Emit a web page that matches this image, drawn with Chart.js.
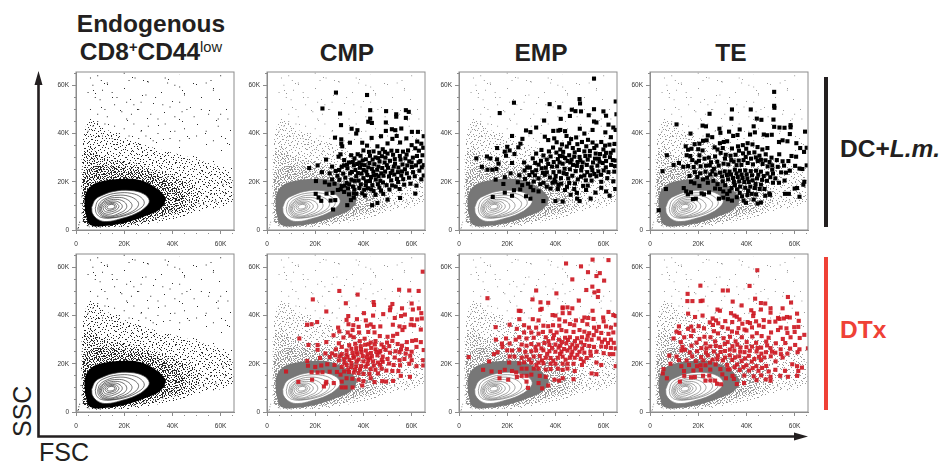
<!DOCTYPE html>
<html>
<head>
<meta charset="utf-8">
<title>FSC SSC</title>
<script src="https://cdn.jsdelivr.net/npm/chart.js@4"></script>
<style>
body { margin: 0; background: #fff; width: 940px; height: 463px; overflow: hidden; position: relative; font-family: "Liberation Sans", Arial, sans-serif; color: #231f20; }
canvas { position: absolute; }
.head { position: absolute; font-weight: bold; font-size: 24.5px; line-height: 28px; text-align: center; white-space: nowrap; }
.head sup { font-size: 60%; line-height: 0; vertical-align: 0.55em; }
.head sup.low { font-weight: normal; }
.bar { position: absolute; left: 824px; width: 3.5px; }
.axisName { position: absolute; font-size: 25px; line-height: 25px; }
svg { position: absolute; left: 0; top: 0; }
</style>
</head>
<body>
<div class="head" style="left:51px;top:10px;width:200px">Endogenous<br>CD8<sup>+</sup>CD44<sup class="low">low</sup></div>
<div class="head" style="left:297px;top:39px;width:100px">CMP</div>
<div class="head" style="left:491px;top:39px;width:100px">EMP</div>
<div class="head" style="left:681px;top:39px;width:100px">TE</div>
<div class="head" style="left:840px;top:135px">DC+<i>L.m.</i></div>
<div class="head" style="left:840px;top:316px;color:#ef4136">DTx</div>
<div class="bar" style="top:77px;height:150px;background:#231f20"></div>
<div class="bar" style="top:257px;height:153px;background:#ef4136"></div>
<svg width="940" height="463">
  <path d="M38.5 80V436.5H800" fill="none" stroke="#231f20" stroke-width="2.6"/>
  <path d="M38.5 71L42.5 85H34.5Z M808 436.5L794 432.5V440.5Z" fill="#231f20"/>
</svg>
<div class="axisName" style="left:9px;top:412px;transform:rotate(-90deg);transform-origin:13px 12px;width:50px">SSC</div>
<div class="axisName" style="left:39px;top:440px">FSC</div>

<script>
// all values in thousands (K)
var tickValues = [0, 20, 40, 60];

var contours = [
  [[6.5,9.4],[7.9,12.5],[10,14],[15.6,16],[22.5,16.4],[28,15],[30.4,12.2],[28.8,9.4],[24.6,6.7],[18.3,4.6],[12.8,3.5],[9.3,4.3],[6.9,6.7]],
  [[8,9],[9,12],[12,14],[17,15.3],[23,15.2],[27,13.5],[28.3,11],[26,8.5],[21,6.2],[15,5],[10.5,5.2],[8.5,6.8]],
  [[9,9],[10,11.5],[13,13.4],[17,14.4],[22,14],[25.5,12],[25.8,10],[23.5,7.8],[19,6],[14,5.1],[10.8,5.7],[9.3,7.2]],
  [[9.5,9],[10.5,11],[13,12.8],[17,13.5],[20.5,13],[23,11],[23,9.3],[21,7.5],[17,6],[13.5,5.4],[11,6.1],[9.9,7.4]],
  [[10,9],[11,11],[13.2,12.2],[16.5,12.7],[19.5,12],[21,10.3],[20.5,8.5],[18,7],[14.5,5.8],[11.8,6.3],[10.4,7.5]],
  [[10.5,9.2],[11.5,10.8],[13.5,11.7],[16.3,12],[18.3,11.2],[19.2,9.8],[18.3,8.4],[16,7.2],[13.5,6.5],[11.6,7],[10.8,8]],
  [[11.2,9.3],[12.2,10.7],[14,11.3],[16,11.4],[17.4,10.6],[17.8,9.6],[16.8,8.4],[14.8,7.6],[12.8,7.4],[11.6,8.1]],
  [[12,9.4],[12.8,10.5],[14.2,10.9],[15.8,10.9],[16.7,10.1],[16.6,9.2],[15.3,8.5],[13.8,8.1],[12.6,8.4]],
  [[12.8,9.5],[13.5,10.3],[14.7,10.6],[15.9,10.3],[16.1,9.5],[15.2,8.9],[13.9,8.7],[13,9]]
];
var denseBand = [[3.8,7.4],[3.8,14.3],[6.5,18.5],[12.8,20.6],[19.7,21.2],[26.7,20.6],[33.6,17.1],[37,13],[35,8.8],[29.4,6],[21,3.2],[12.8,1.8],[5.8,2.2]];
var innerCloud = [[3,3],[2.8,15],[3.5,23],[8,26.5],[16,26],[26,25],[35,22],[43,17],[45,12],[41,7.5],[30,4.5],[16,1.6],[6,1.4]];
var midCloud = [[2.8,3],[2.6,16],[3,30],[5,34],[12,30],[22,28],[32,25.5],[42,22],[50,17],[50,10],[41,6.5],[30,3.6],[15,1.4],[5,1.2]];
var outerCloud = [[2.6,3],[2.4,22],[3,38],[6,45],[14,41],[26,36],[40,32],[54,28],[64,24],[65,12],[52,8],[38,4],[20,1.2]];
var farCloud = [[3,20],[4,45],[8,65],[40,65],[65,52],[65,15],[40,15]];

// stipple tiles, each dot one pixel: width, height, dots
var tileFar = [89, 73, [[3,2],[5,3],[21,1],[44,6],[71,3],[86,9],[12,13],[33,11],[58,15],[61,16],[78,20],[7,27],[26,24],[47,22],[49,25],[84,31],[18,35],[37,33],[66,29],[2,41],[29,44],[55,39],[74,42],[12,50],[44,51],[47,53],[81,52],[23,57],[62,56],[6,62],[35,63],[70,65],[86,68],[15,70],[52,68],[28,71]]];
var tileB = [47, 41, [[2,1],[11,0],[14,2],[27,3],[38,1],[44,4],[6,5],[20,6],[33,7],[41,8],[0,9],[9,9],[16,11],[24,10],[29,12],[36,12],[45,13],[4,14],[12,15],[19,16],[39,17],[26,17],[31,18],[7,19],[43,20],[1,21],[15,21],[22,22],[35,22],[10,24],[28,24],[40,25],[5,26],[18,26],[33,27],[45,27],[13,29],[24,30],[37,30],[2,31],[8,32],[30,32],[42,33],[17,34],[21,35],[35,35],[5,36],[27,37],[44,37],[12,38],[38,39],[1,39],[23,40],[32,40]]];
var tileA = [23, 19, [[1,0],[7,1],[14,0],[19,2],[3,3],[10,3],[16,4],[22,4],[0,5],[8,5],[6,6],[12,6],[18,7],[4,8],[9,8],[15,9],[21,9],[1,10],[16,10],[7,11],[13,11],[19,11],[3,12],[10,13],[17,13],[22,14],[0,14],[5,15],[12,15],[15,16],[20,16],[2,17],[8,17],[14,18],[18,18],[5,18],[11,1],[21,0],[4,11]]];
var tileC = [17, 13, [[0,0],[3,0],[7,1],[10,0],[14,1],[1,2],[5,2],[9,3],[12,2],[16,3],[3,4],[7,4],[11,5],[14,4],[0,5],[5,6],[9,6],[13,7],[2,7],[16,7],[7,8],[4,8],[11,8],[15,9],[0,9],[2,10],[6,10],[9,10],[13,10],[16,11],[4,11],[11,11],[0,12],[7,12],[14,12]]];
var tileD = [13, 11, [[0,0],[2,0],[5,1],[8,0],[11,1],[3,2],[6,2],[9,2],[12,3],[1,3],[4,4],[7,4],[10,4],[0,5],[2,5],[5,6],[8,6],[11,6],[12,5],[3,7],[6,7],[9,8],[1,8],[4,9],[7,9],[11,9],[0,10],[2,10],[5,10],[9,10],[12,10]]];

var cloudDots = [[1,1],[1.2,2.2],[.8,.5],[1.5,3.2],[6,63],[9,64],[10.5,62],[7,60],[13,61],[20,65],[22,62],[24.5,63],[28,62],[30,61.4],[37,63],[38,61],[41,60],[43,59.3],[56,62],[60,64],[54,61],[5,57],[8,55],[10,54],[11,58],[15,57],[17,55],[21,53],[24,52],[26,50],[27,53],[29,56],[33,55],[36,52],[39,51],[43,53],[45,56],[46,50],[49,47],[52,50],[55,48],[57,58],[59,46],[60,48],[63,46],[6,50],[9,48],[12,50],[13,47],[16,52],[19,49],[21,46],[23,48],[31,48],[34,46],[41,47],[44,49],
[5,41],[7,43],[9,45],[11,39],[12,44],[15,38],[16,43],[18,40],[20,42],[22,39],[24,44],[26,38],[27,41],[29,39],[30,43],[32,37],[34,40],[37,44],[39,38],[41,41],[43,37],[45,42],[47,38],[50,39],[54,41],[57,37],[59,43],[62,38],
[38,22],[44,14],[47,12],[51,11],[54,14],[58,12],[61,19],[62,15],[64,21],[53,10.7],[56,15],[39,8],[36,6.3],[33,4.8],[28,3.6],[24,2.7],[18,1.4],[10,1.2],[5,1.8],[3.1,4],[2.4,7],[2.1,11],[2.5,14],[2.3,18],[2.8,21],[3,23]];

var cmpDc = [[28.6,57],[41.5,56],[23,50.4],[30.3,48.3],[42.8,49.7],[49.4,49.3],[57.6,49.7],[58.8,49],[53.6,48],[53.6,47],[57.6,46.5],[42.8,46.2],[42,44.9],[43.5,44.4],[49.3,44.6],[30.7,43.5],[35.1,42],[37.5,41.4],[37,40],[28.2,38.3],[30.8,37.6],[30.8,35.8],[31.2,34.7],[34.4,36.2],[39.5,36.2],[43.4,38.2],[47.3,38.9],[49.3,41.1],[51.8,41.8],[53.2,41.4],[55.7,42.1],[60.1,40.7],[62.6,40.7],[65,38.9],[17.5,25.7],[21,26.8],[22.8,24],[24.5,29.2],[27,26.3],[29.7,30.4],[30.5,31.4],[32,29],[34,28],[36.3,29.7],[38.8,30.8],[40,33],[41.5,35],[44.2,32.6],[45.8,34.7],[48,33.5],[50,35.9],[52,37.8],[53.8,39],[55.2,36.3],[57.8,38],[60,35.2],[62.3,36.7],[64,35.8],[64.8,34.1],[63,32.9],[61.5,33.9],[58.5,33],[56.4,32.5],[54,32.8],[51.6,32.9],[50,31.7],[47.7,30.6],[45,30.1],[42.7,30.8],[41,29.3],[38.3,28],[36,26.8],[33.4,25.6],[31,26.2],[28.5,24.5],[26,23.5],[24,19.8],[20.3,20.3],[25.8,18.8],[28,19.2],[30,20.8],[32.5,21.7],[34.5,23.5],[36.7,24.9],[38.6,25.8],[40.5,26.9],[42.5,27.8],[44.5,27.3],[46.7,28.4],[48.8,28],[51,28.7],[53,29.4],[55.4,29.2],[57.4,29.7],[59,28.5],[60.5,30],[62.2,30.7],[64.5,31],[65,26.9],[63.2,24.6],[61.8,26.8],[58.2,26.8],[56.2,27.2],[54.5,25.9],[52.6,26.3],[50.2,25.8],[47.8,25.7],[45.7,25],[43.5,25.4],[41.2,24.3],[39.2,23.4],[37,22.3],[35,20.8],[33,19.5],[31,18.2],[29.4,16.6],[27.2,15.4],[24.7,15.1],[20.2,15],[21.4,13.5],[22.5,12.1],[26.4,12.2],[28.3,12.4],[27.4,8.5],[32,15.8],[34,14.8],[33.3,10.3],[36,13.4],[36.2,16.8],[38.3,17.4],[39.5,15.2],[40.6,14.3],[41,18.6],[42.7,20.3],[43.2,16.9],[43.6,10.3],[45.8,11.2],[45,14.6],[46.6,17.6],[47,20.4],[48.3,22.5],[49.6,18.6],[50.8,16.8],[51.5,20.6],[52.8,23],[53.4,18],[55,17],[55.2,13.3],[56.5,21.1],[58,23.5],[59.5,19.2],[61.5,15.1],[62,18.4],[64,21],[63.6,28.6],[65,22.6],[60.6,24],[38,20.5],[35.7,18],[33.6,17.3],[31.6,23.4],[29.2,22.5],[27,21],[40,21.5],[41.6,22.8],[44.4,22.7],[46.3,22.3],[49,24.2],[51.3,23.6],[53.9,21.2],[56,24.3],[43.7,18.6],[46,19],[48.2,15],[50,12.6],[37,15],[34.8,12.4],
[35.2,24.1],[37.7,23.6],[39.1,27.2],[40.1,24.9],[42,26],[43.1,22],[44.1,24.2],[45.1,20.9],[46.2,26.3],[47.4,23.5],[48.1,19.7],[49.7,26.9],[50.6,22.2],[52,24.6],[54.3,24],[55.7,22.6],[57.2,25.2],[58.9,21.7],[60.1,26.1],[61.3,22.3],[36.4,20.4],[34.1,19],[32.2,18.4],[30.6,16.9],[38.9,18.9],[40.3,16.7],[41.9,17.3],[44.2,16.2],[47.3,16.3],[51.9,18.5],[54.4,19.9],[56.9,18.8],[33.2,27.1],[35.6,28.2],[37.4,27.4],[39.7,28.9],[43.8,29.2],[46.1,29.8],[49.1,30],[52.3,31.2],[55.1,30.7],[57.9,31.3],[60,28],[62.9,28.1],[64.2,26],[48.9,32.4],[46.6,32],[42.3,32.4],[37.6,31.4],[34.9,31],[31.9,26.8],[29.9,24.9],[53.1,27.5],[41.1,20.2],[45.3,22.9],[36.1,15.2]];

var empDc = [[56,62.8],[22.8,52.8],[50,54.3],[50.2,52.5],[65,53.3],[16.9,48.5],[37.6,52.2],[41.6,50.9],[42.2,46.1],[46.8,49.9],[46,47.3],[48.3,49.3],[50.6,49.2],[56,50.1],[53.8,47.6],[59.9,49.2],[61,47.4],[65.3,48],[56,45],[57,44.6],[35.3,45.4],[32,42.5],[39.1,41.1],[27.8,41.3],[29.6,40.6],[22,39],[41.2,41.2],[42,41.5],[44,41],[50.1,42],[52,40],[55.4,41.5],[62,43.7],[64,42.5],[65,41.5],[60.7,40.5],[63,38.5],[26.3,37.8],[25.5,35.8],[24.6,34.3],[15.8,34],[20,34.5],[21,33],[19,32.5],[19.5,30.8],[23,31.5],[7.2,29.7],[11.6,30.5],[13,29.7],[15.8,29.3],[16.4,27.5],[22,27.8],[9.5,26.2],[11.8,25],[13.8,25],[15.5,25.3],[27,28],[28.3,26],[30.6,29.7],[32,31.7],[34.2,33.2],[35.6,38.7],[37,37.3],[39.5,38],[40.5,36.4],[42.7,35.5],[44.6,39],[46.5,37.7],[48.6,38.4],[51,36.5],[53.5,37.4],[55.4,36.3],[57,35],[59,36.5],[60.6,35],[62.4,35.4],[64.5,35.7],[64,33],[61,32],[58.5,31.5],[56.7,31.7],[54.3,32.8],[52,32.6],[49.7,33.2],[47.2,34],[44.7,34.6],[42,33.4],[40.4,32.1],[38,30.5],[36.4,29.2],[34,28.7],[31.6,27.8],[29.4,25.9],[27.2,24.7],[25,22.7],[21.4,23.5],[19,21.9],[15.2,20.9],[18.4,19.1],[14,13.7],[19,15.5],[22.8,16.5],[22,14.2],[25.4,16.8],[27.8,14],[29.6,13],[30.8,16.5],[33,16],[35,12],[36.4,18],[38.8,19.6],[40,12],[41,17],[43,11.8],[44,16.6],[45.7,19.5],[47.8,17],[49,13],[50,12],[54.6,13],[56.6,15.5],[59,17.5],[61,16],[62.5,14.2],[64.8,17],[64,20.2],[61.5,21.5],[59,20],[57,22.3],[55,20.5],[52.6,20.6],[51.5,18.3],[49.3,21],[47,22.5],[44.6,23.2],[42.3,21.5],[40.1,22.4],[37.7,21.8],[35.6,22.9],[33,21.4],[31,20.1],[28.6,19.2],[26.2,18.6],[24.4,19.8],[29.2,22.8],[32,24.8],[34.3,25.6],[36,25.8],[38.6,26.3],[40.7,26.4],[43,27.5],[45,28.6],[47.3,27],[49.2,28.2],[51.3,28],[53.4,29.2],[55.6,28],[57.4,26.7],[59.6,27.8],[61,28.6],[63.1,27],[65,28.8],[64.4,24.2],[62,24],[60,24.7],[57.8,24.3],[55.3,24.8],[53.2,24],[50.7,24.7],[48.4,24.4],[46,25.2],[43.8,25.4],[41.6,24.2],[39.2,24],[37,27.4],[41,29.4],[43,30.6],[45.7,31],[47.8,30.4],[50,30.3],[52.4,30.7],[58,29.6],[60.4,30.6],[62.6,30.2],[35,19.6],[38,17.2],[42.4,19.2],[46.3,14.6],[52.7,16.6],[40,20],
[41.7,28],[44,29.9],[46.7,29.2],[48.9,26.6],[50.9,26.1],[53,27],[55,26],[58.3,28.3],[59.9,33.4],[56.1,34],[52.8,34.7],[49.1,35.6],[45.7,36],[43.2,32.4],[39,34.2],[37.3,32.6],[35,30.9],[33,27.1],[30.4,24],[34.8,23.7],[39.6,20.9],[43.4,23.6],[45.3,21.4],[48.1,19.3],[50.6,22.1],[54.4,22.7],[58.9,22.9],[60.9,26],[63.8,29],[62.9,32],[64.7,26.5],[56.4,29.6],[54.2,30.8],[41.9,30.7],[39.3,28.2],[36.4,23.9],[41.2,18.7],[44.8,17.9],[48.9,15.4],[53.4,18.4],[46.2,28],[48,32.2],[50.3,28.9],[52,22.6],[56.1,23.2],[33.7,19],[31.5,22.7],[29.7,17.8],[27.4,21.2]];

var teDc = [[51.5,57.3],[51.5,51.5],[51.6,50.7],[34,50],[41.8,50],[24.7,48.2],[33.8,46.2],[44.3,46.2],[46.2,45.7],[51.2,45.8],[11,43.8],[21.8,43.3],[23.2,43],[28.8,42],[37.2,41.7],[43,43],[51.5,42.8],[53.7,42.5],[55.8,42.4],[58.3,43.5],[58.3,42.6],[64.3,40.8],[16.8,40],[29.2,40.3],[32.8,40.8],[34.5,39],[36.3,39.4],[41.5,39.6],[43.5,40.5],[47.2,39.6],[48.5,39.3],[50.5,39.5],[58,39.8],[24,39.2],[25.8,38.5],[23.5,37.2],[22,37],[20.5,35.8],[18.5,35.6],[14.8,34.7],[15.8,33.3],[17.2,33.7],[20,33.5],[21.8,33],[26.8,34.3],[29,36],[30.6,36.5],[32,36.8],[34,33.8],[36.5,34.7],[38.5,35.2],[40.5,36],[42.5,35.5],[44.6,34.4],[46.6,33.4],[48.7,34],[53.5,36.5],[55,37.2],[57,36.8],[60.7,36],[62.3,34],[65,34.1],[63.9,32.4],[60.6,30.4],[58.7,30.7],[57.4,28.6],[55,28.5],[52.6,29],[50.4,30],[48,31.4],[45.4,30.8],[43.3,32.2],[41,32],[38.6,31.8],[35.5,31.2],[33.4,30.8],[31.4,31.2],[29.3,32],[27,30.5],[24.4,30],[22.6,29.6],[20.5,31],[16.7,30.7],[15.2,31],[17.5,29],[19.2,28],[21,26.4],[15.8,26.5],[13.8,26.2],[12,27.8],[9.8,27],[7,31],[5.2,24.4],[6.6,17],[3.6,8.2],[24.8,26.8],[26.5,25.4],[28.5,26.7],[30.5,27.5],[32.5,27.2],[34.7,28.4],[36.8,28.8],[38.8,29],[40.5,27.8],[42.7,27.2],[44.7,28.6],[46.7,27.4],[48.8,26.4],[50.7,26.8],[53,26.2],[55.6,26.7],[58,24.6],[60.2,26.6],[62,25.5],[63.2,25.3],[65,26.8],[56.4,23.8],[51,23.4],[48.7,23.4],[46,24.2],[44,24.6],[41.8,24.4],[39.5,24.7],[37.3,24.6],[35.2,25],[33,24.2],[31,24.3],[29,23.8],[27.2,23],[25,23],[23,24.2],[20.8,23.5],[18.6,24],[17,20],[18.4,19.4],[20.5,18.3],[22,21],[24,19.6],[26.3,20.4],[28,19],[30.2,20.2],[32.4,21],[34.4,21.6],[36.4,22],[38.4,21.6],[40.4,21.4],[42.6,20.6],[44.4,21.4],[46.5,20.8],[48.5,20.4],[51,19.6],[53.5,19.6],[55.8,20.5],[64,20],[63.6,18.8],[60,17.2],[61,17.4],[14,17.4],[15,16],[15.7,14.8],[17,15.6],[17.8,12.8],[19,13],[21.4,15.2],[22.4,14.8],[24.5,15.6],[29,17],[30.4,16],[32,15],[33.8,17.4],[35.2,18.6],[37.4,18],[39.5,17.5],[41.6,18],[43.5,17.4],[45.5,17],[47.5,17],[49.5,15.2],[49.8,14.6],[56,15],[57.6,15],[62,13.8],[28.6,13],[30.4,13.4],[32.3,12.8],[37.2,15.4],[38.8,12.2],[39.8,11.3],[43,12.6],[44.6,11],[46,11.4],[40.4,14.5],[42.2,15],[36,13.6],[34,12.2],
[25.3,28.1],[27.9,28.3],[31.1,29.6],[33.7,29],[35.9,26.9],[37.9,27],[39.7,30.3],[41.9,29.6],[43.9,30.1],[46,29.1],[47.9,28.9],[49.6,28.2],[23.2,26.7],[20.3,28.7],[18.1,26.1],[16.4,22.4],[19.6,22],[23.7,21.7],[25.9,24.4],[29.9,22.2],[31.9,22.8],[33.6,23],[35.9,23.5],[38,23],[40.1,23.1],[42.3,22.7],[44.9,22.9],[47.2,22.4],[49.9,21.9],[37,20.2],[39.1,19.9],[41,19.9],[43.8,19.1],[46,18.8],[34.8,19.9],[31.2,18.6],[27,17.2],[36.1,16.9],[33,16.1],[40.7,16.2],[38.2,14],[44,14.8],[47.8,14.2],[50.7,25],[52,21.4],[54.4,23.9],[53.6,31.4],[36.9,32.9],[39.9,33.7],[28,33.4],[30.2,34]];

var cmpDtx = [[64.6,58.2],[30,50.2],[37.6,48.7],[19,46.7],[54.8,50.7],[59,50.4],[62.9,50.2],[32.7,45.1],[44.2,45.6],[44.4,44.4],[52,44.8],[51.2,43.4],[51,42.2],[56,43],[60,45],[60.5,42.5],[63,43],[64,41],[24.6,41.7],[40.2,41],[44,40],[48.2,40.6],[53,39],[55.6,39.8],[57.2,40.4],[60,38.5],[62.3,38.4],[64.2,38.8],[33.7,39.8],[33,38.2],[37.3,38.5],[41,38],[20.8,37.3],[18.5,36.4],[16.6,36.2],[13.4,30.5],[29.5,35],[33.8,36.4],[35.8,36],[38,35.3],[41.5,35.8],[43,36.3],[44.2,35.3],[47,35.5],[52.2,36.2],[55,35.5],[57,35.2],[59.6,36.2],[61,36],[63.8,34.2],[27.6,31.8],[30,33.4],[33.5,33],[35.5,34],[38.2,33],[42,33.2],[44.6,33],[46.8,31.5],[50,31.2],[52.3,31.6],[54,32.4],[56.2,34],[58,29],[60.2,29.5],[61.8,29.8],[63.8,29],[36,31],[38.5,29.4],[40.5,30.4],[43,28.8],[45,29.4],[47.5,28],[49.8,28.8],[52,29.5],[54.2,28.2],[56,27.5],[65,25.7],[62,27],[60,25],[58,26.1],[17.2,27.8],[21,27.8],[24.6,29],[29.8,28.5],[31,27],[33,25.5],[35,26.2],[37,26.5],[39,26],[41,25.5],[43.2,26.6],[45,26],[47,25.3],[49.2,25.8],[51,24.6],[53.3,25.2],[55,24.8],[21,25.8],[27,24.3],[28.4,23.5],[31,24],[33,23.8],[35.5,24.5],[37.5,24],[39.7,23.2],[41.7,24],[43.5,23],[45.8,23.5],[48,23],[50,22],[53,22.6],[55,21.5],[57,22],[60,21.5],[64.8,21.5],[22,22.4],[24.2,24.3],[26,22.8],[16.7,21.2],[29.8,21.4],[32,22],[34.2,21.6],[36,22.5],[38,21.8],[40,21],[42,21.5],[44,21],[46,20.5],[48,20.8],[52.5,19.5],[55.2,19.4],[59,20],[62,19],[64.8,19.3],[17,19.2],[20,18.7],[22.5,19.3],[25,19.8],[28,19.5],[31,18.7],[33,19.5],[35,18.7],[37,19],[39,19],[41,18.8],[43,17.8],[45,17.5],[47.5,18],[49.5,17.2],[52,17],[54.5,17],[7.9,16.8],[18.5,16.5],[21,16.4],[23,16.5],[26,16.7],[29,16.6],[32,16.8],[34,16.6],[36,16.4],[38,16.2],[40,15.8],[42.5,15.8],[46,16],[55.5,15],[59.3,14.6],[13,12.5],[18.7,13.4],[24.6,12.5],[24.4,11.8],[23.6,10.6],[27.7,12],[31,12.6],[33,14],[35.4,13.8],[38,13.4],[40,12.8],[43,14],[44.6,12.4],[47.8,12.8],[49.4,12.6],[52.3,12.9],[32.6,10.2],[31,10.2],[35.5,10.2],[39.5,11],
[34.1,27.7],[36.6,28.3],[38.9,27.3],[42.1,28.1],[33.4,22.9],[35,20.3],[37.2,20.9],[39.2,24.8],[41.3,22.7],[43.1,24.5],[45.4,24.9],[47.6,21.6],[36.5,17.6],[38.6,17.6],[41.7,19.9],[44.3,19.3],[46.9,19.6],[50.6,20.1],[33.7,17.7],[30.5,15.5],[30.2,23.1],[28.6,26],[32.1,20.4],[40.7,27.9],[44.7,28],[48.4,26.9],[50.7,27.3],[55.6,26],[57.5,24.2],[59.4,23.3],[34.6,31.7],[31.7,30.9],[37.1,24.9],[35.9,23.1],[42.7,22.3],[46.6,24.7]];

var empDtx = [[55.4,63.2],[62,63],[44.4,61.6],[50.6,60.4],[53.5,58],[58.4,57.6],[57,56.4],[47,55],[60.2,54.5],[55.3,52],[52.8,50.6],[56.2,49.6],[57.8,50.2],[32,50.4],[40.4,49.2],[11.8,47.2],[30.5,46.7],[49.7,46.2],[57.6,47.7],[33.8,45.5],[37,45.3],[43,43.4],[43,43],[45,43.4],[47,43],[34.3,42.8],[33.7,42.4],[24.8,42],[25.5,41.9],[43,41],[45.8,41],[55.4,42],[62,41.5],[64,40.2],[65,39.8],[38.8,40.2],[40,40],[30.6,38.5],[33,38],[25,38.5],[41.6,38.4],[44,37.6],[48.5,38],[52,39.2],[53.6,39],[55.8,38.6],[59.8,39.2],[60,37.6],[21,36.2],[27,36],[29,35],[32,35],[35,35.8],[37,35.6],[39,36],[41.6,35.8],[46,36.5],[47.8,36],[51.2,37.8],[53.2,36.4],[56,35],[58,35.3],[61,35.5],[63,35],[65,36.2],[15.2,35.2],[24,34.5],[27,33],[30,33],[33,32.5],[34.8,33.2],[38,33.5],[40.5,33],[42.5,34],[44.5,33.5],[47.5,33.2],[50,34],[52,33.3],[54,32.7],[57,33.6],[59,32.8],[62,32.4],[64,33],[15.3,30],[19.5,30.5],[21,28.4],[23.5,30],[25,31],[28,30.5],[31,30.8],[36,31],[39,30.5],[41.5,30],[44,30.8],[46,31],[49,30.6],[51,31],[53,30],[55,30],[58,30.5],[60.5,30],[63,30],[17.8,28.4],[18,27],[26,28],[28,27.5],[30,28.2],[33,28],[35.4,28.6],[37.5,27.8],[40,28],[42,27.5],[44.5,28.5],[47,28],[49,27.5],[52,27.8],[54,27.4],[56,27],[59,27.2],[61,27],[63,26.6],[65,26.4],[20,25.6],[22,25.5],[25,25.8],[27.5,25],[30,25.2],[32,25.5],[35,25.6],[37.5,25.2],[40,25],[42.5,25],[45,25.5],[47,25],[50,25],[52,24.6],[54.5,25],[57,25],[60,24.4],[62.5,24],[64,24],[14.5,24],[16,24.8],[4,22.8],[21,23],[23,23],[26,22.5],[28,23],[31,23],[33.5,23.2],[36,22.5],[38,22.4],[41,22.5],[43,23],[46,22.5],[48,22.5],[50.5,22],[53,22.4],[12.5,21],[20.8,20.5],[25,20.2],[27,20.6],[30,20.5],[33,20.5],[35,20.2],[38,20],[40,20],[43,20],[45,20],[47.5,20],[51,19.5],[57,20.5],[59,19.5],[65,19],[10,17.5],[13.5,16.8],[17,16.6],[19,17.5],[22,17],[23.7,16.4],[26,18],[28,18],[31,18],[33,18],[36,17.6],[38,17.8],[41,18],[43,17.5],[45,18],[48,17],[55,16],[57,15.7],[16.8,14],[20.4,13.4],[24,14.5],[26,15],[28,15],[30,15.5],[33.5,15],[36,14.6],[39.6,13.4],[43,14],[47.5,13.6],[28,12.6],[28.6,10],[33,12],[34.5,9.8],[37,11],[41.5,13],
[34.4,21.4],[36.6,24.1],[39.1,21.3],[41.9,24.1],[44.2,21.7],[46.6,23.8],[49.1,23.7],[51.7,21],[54.7,23.4],[37.1,29.4],[39.4,31.9],[42.7,29],[45.2,29.9],[48.1,29.4],[50.6,28.9],[53.4,31.6],[55.9,31.9],[59.3,29.1],[61.8,28.6],[64.2,28.7],[43.6,26.1],[46.1,26.7],[48.2,26.4],[51.1,26.3],[31.7,26.9],[34.2,26.4],[38.6,26.6],[41.3,26.7],[29.1,21.7],[32.1,19.4]];

var teDtx = [[44.5,58.8],[20.9,52.4],[41.3,52.3],[30.2,50.4],[32.3,50.4],[15.6,49],[43.6,47],[57.2,47.7],[15.5,46],[17.6,46],[21,46],[21.8,46.2],[34.3,45.8],[46,45.2],[47.8,45],[58.5,45.4],[38,44.2],[55,43],[28,42.5],[29,42],[42,42.2],[46,42.5],[50,43],[33.6,41],[35,40],[43,41],[15.8,40.8],[61,40.8],[21.8,40],[50,41.2],[36,39.5],[42.8,39.8],[53.1,39],[18.7,39.4],[53.7,38.6],[55.5,38.8],[56.8,39.4],[58,39.2],[26,38.8],[27.4,38],[31.2,37.7],[37.1,38.4],[40.5,37.3],[47.2,38.1],[49.5,37.4],[52,37.5],[24.8,37.2],[26.1,36.1],[28.3,36.8],[34.1,37.3],[38.3,36.6],[41.5,36.9],[44,37.6],[45.2,35.9],[61.7,37.8],[12,35.5],[17.1,35.4],[20.2,35.6],[22.4,34.7],[30,35.2],[32.3,34.6],[36.7,34.8],[39.2,34.2],[42.3,35.1],[47.1,35.3],[54.2,35],[56.6,34.7],[59.8,35.2],[61.5,35.3],[11,33.3],[12.2,32.8],[15.8,34.5],[18,33.7],[26.5,33.5],[28.2,32.6],[34,33.4],[36.1,32.9],[40,33.8],[44.3,32.7],[50.2,33],[53.1,34],[57,32.8],[60,33.2],[64,32],[9.8,30.5],[14.2,31],[17,31.5],[20.5,30.3],[22.6,31.2],[25.1,31],[30.5,30.6],[33.2,31.2],[38.1,31],[42.4,31.3],[46.3,31.5],[49.2,30.8],[55.1,30.3],[58.3,31],[62.1,30.7],[12.8,29],[19.3,28.8],[23.1,28.4],[27,29.3],[32.2,29],[35.5,29.3],[40.1,29],[44,28.7],[48.2,29.2],[52.2,28.5],[56.1,28.6],[60.2,27.8],[65.5,26.4],[13.5,27],[17.2,27.5],[21.3,26.5],[25,27.2],[29.1,27],[34.2,27.3],[37.5,26.8],[42.3,27.1],[46.1,26.7],[50,26.5],[54.2,26],[58.1,26.3],[62,26],[13,25.5],[14.5,25.8],[16.5,24.7],[19.5,25.2],[23.2,24.7],[26.5,25.1],[31.1,25.3],[35,25.5],[39.2,24.8],[44.2,25.1],[48.1,24.8],[52,24.6],[57,24.2],[61.2,24.8],[8,23.4],[11,23],[17.5,23.1],[21.2,22.8],[24,23.5],[28.1,23.4],[33.1,23.5],[37,23.1],[41,23.3],[45.2,22.9],[50.1,23.1],[55,22.6],[12,21.5],[15.2,21.4],[19,21.1],[22.1,21.4],[26,21.7],[30.2,21.4],[34.1,21.6],[38,21.1],[42.2,20.9],[46,21.5],[52.1,21],[59,19.8],[61,19],[8.5,20],[13,19],[16.2,19.5],[19.5,19],[23,19.4],[27.2,19.7],[32,19.5],[36.1,19.7],[40,19.4],[44.1,19],[48.2,19.1],[63,18.4],[5.6,17.8],[5.3,16],[14.1,17],[18,17.2],[21.1,17.5],[25,17.6],[29.2,17.8],[33,17.7],[37.2,17.4],[41.1,17.2],[45,17.1],[49.2,16.8],[52,17.5],[56,17.1],[61.5,17],[7,14],[14.2,15],[17,14.4],[18.6,14.5],[22,15],[24.6,15.1],[30,15.6],[34.2,15],[39.1,15.1],[43,14.8],[46.1,15.2],[50,14.6],[54,15],[57.2,14.6],[61,15],[12.4,12.6],[23,13],[25.1,13.1],[27,13],[27.8,11.7],[29.5,11.5],[31.5,14],[34.8,13.7],[36,11.6],[39,12],[44.2,13.2],[48,13.5],[50,13],
[31.1,22.6],[35.3,22.7],[39.4,22.2],[43.3,22],[47.4,22.6],[29.3,24.9],[33.1,25.9],[37.4,25],[41.4,25.4],[46.2,24.2],[50.6,25],[54.3,24],[36.2,27.9],[40,26.9],[44.6,26.6],[48.6,27.6],[31,28.2],[27.3,27.4],[23.4,26.4],[27.9,21.9],[32.3,17.7],[35.1,18.6],[38.7,18.6],[42.6,18.2],[46.5,18.3],[24.9,20.5],[21,19.4]];

var squareRed = 'rgba(205,25,35,0.92)';
var inkBlack = { dense: '#000000', dot: '#2a2a2a', line: '#333333' };
var inkGrey = { dense: '#777777', dot: '#999999', line: '#777777' };

// plot box of each panel, in page pixels
var columnLefts = [76, 267, 459, 650];
var rowTops = [72, 254];
var plotSize = 158;
var marginLeft = 30, marginBottom = 22, marginTop = 4, marginRight = 6;

function stipple(tile, color) {
  var c = document.createElement('canvas');
  c.width = tile[0];
  c.height = tile[1];
  var g = c.getContext('2d');
  g.fillStyle = color;
  tile[2].forEach(function (d) { g.fillRect(d[0], d[1], 1, 1); });
  return g.createPattern(c, 'repeat');
}

function toPoints(list) {
  return list.map(function (p) { return { x: p[0], y: p[1] }; });
}

function shape(list, color) {
  return { data: toPoints(list.concat([list[0]])), showLine: true, fill: 'shape', backgroundColor: color, borderColor: 'rgba(0,0,0,0)', borderWidth: 0, pointRadius: 0, tension: 0.4 };
}

function drawPanel(col, row, ink, squares, squareColor) {
  var canvas = document.createElement('canvas');
  canvas.width = marginLeft + plotSize + marginRight;
  canvas.height = marginTop + plotSize + marginBottom;
  canvas.style.left = (columnLefts[col] - marginLeft) + 'px';
  canvas.style.top = (rowTops[row] - marginTop) + 'px';
  document.body.appendChild(canvas);

  // paint order, first one goes to the bottom
  var layers = [
    shape(farCloud, stipple(tileFar, ink.dot)),
    shape(outerCloud, stipple(tileB, ink.dot)),
    shape(outerCloud, stipple(tileA, ink.dot)),
    shape(midCloud, stipple(tileC, ink.dot)),
    shape(innerCloud, stipple(tileD, ink.dot)),
    { data: toPoints(cloudDots), pointStyle: 'rect', pointRadius: 0.7, backgroundColor: ink.dot, borderWidth: 0 },
    shape(denseBand, ink.dense),
    shape(contours[0], '#ffffff')
  ];
  contours.forEach(function (c) {
    layers.push({ data: toPoints(c.concat([c[0]])), showLine: true, fill: false, borderColor: ink.line, borderWidth: 0.7, pointRadius: 0, tension: 0.4 });
  });
  if (squares) {
    layers.push({ data: toPoints(squares), pointStyle: 'rect', pointRadius: 2.9, backgroundColor: squareColor, borderWidth: 0 });
  }
  layers.forEach(function (d, i) { d.order = layers.length - i; });

  var axis = function (fit) {
    return {
      type: 'linear', min: 0, max: 65.536,
      afterBuildTicks: function (s) {
        var t = [];
        for (var v = 0; v <= 65; v += 5) t.push({ value: v });
        s.ticks = t;
      },
      afterFit: function (s) {
        fit(s);
        s.paddingTop = s.paddingBottom = s.paddingLeft = s.paddingRight = 0;
      },
      border: { color: '#8c8c8c', width: 1 },
      grid: {
        drawOnChartArea: false, tickLength: 4, tickColor: '#8c8c8c',
        tickBorderDash: function (c) { return c.tick && tickValues.indexOf(c.tick.value) >= 0 ? [] : [0, 2, 2]; }
      },
      ticks: {
        autoSkip: false, maxRotation: 0, includeBounds: false, color: '#333333',
        font: { family: '"Liberation Sans"', size: 6.5 },
        callback: function (v) { return v === 0 ? '0' : (tickValues.indexOf(v) >= 0 ? v + 'K' : ''); }
      }
    };
  };
  var xAxis = axis(function (s) { s.height = marginBottom; });
  var yAxis = axis(function (s) { s.width = marginLeft; });
  xAxis.ticks.padding = 6;
  yAxis.ticks.padding = 3;

  return new Chart(canvas.getContext('2d'), {
    type: 'scatter',
    data: { datasets: layers },
    options: {
      responsive: false, animation: false, events: [],
      layout: { autoPadding: false, padding: { top: marginTop, right: marginRight, left: 0, bottom: 0 } },
      plugins: { legend: { display: false }, tooltip: { enabled: false } },
      scales: { x: xAxis, y: yAxis }
    },
    plugins: [{
      id: 'box',
      afterDraw: function (chart) {
        var a = chart.chartArea, c = chart.ctx;
        c.save();
        c.strokeStyle = '#8c8c8c';
        c.lineWidth = 1;
        c.strokeRect(a.left, a.top, a.right - a.left, a.bottom - a.top);
        c.restore();
      }
    }]
  });
}

drawPanel(0, 0, inkBlack);
drawPanel(1, 0, inkGrey, cmpDc, '#000000');
drawPanel(2, 0, inkGrey, empDc, '#000000');
drawPanel(3, 0, inkGrey, teDc, '#000000');
drawPanel(0, 1, inkBlack);
drawPanel(1, 1, inkGrey, cmpDtx, squareRed);
drawPanel(2, 1, inkGrey, empDtx, squareRed);
drawPanel(3, 1, inkGrey, teDtx, squareRed);
</script>
</body>
</html>
